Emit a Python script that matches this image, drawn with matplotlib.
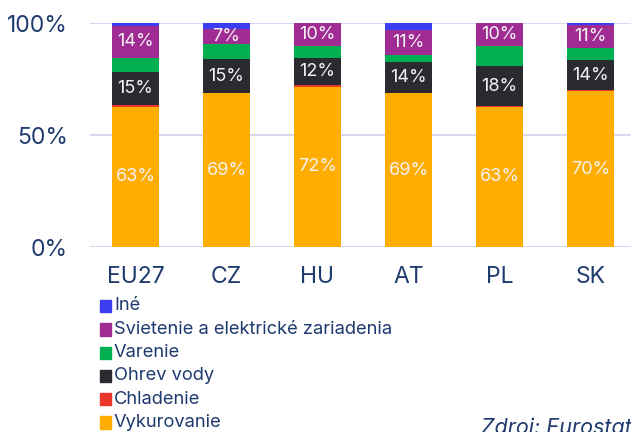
import matplotlib
matplotlib.use("Agg")
import matplotlib.pyplot as plt
from matplotlib.patches import Rectangle
import numpy as np

plt.rcParams['font.family'] = ['Inter', 'DejaVu Sans']

countries = ["EU27", "CZ", "HU", "AT", "PL", "SK"]
series_names = ["Vykurovanie", "Chladenie", "Ohrev vody", "Varenie",
                "Svietenie a elektrické zariadenia", "Iné"]
vykurovanie = [62.6, 68.6, 71.6, 68.6, 62.6, 69.6]
chladenie = [0.7, 0.0, 0.6, 0.0, 0.2, 0.3]
ohrev_vody = [14.9, 15.4, 12.3, 14.1, 17.9, 13.5]
varenie = [6.3, 6.6, 5.1, 2.9, 9.1, 5.3]
svietenie = [14.2, 6.8, 10.4, 11.2, 10.2, 10.6]
ine = [1.3, 2.6, 0.0, 3.2, 0.0, 0.8]
yticks = [0, 50, 100]
ytick_labels = ["0%", "50%", "100%"]
source = "Zdroj: Eurostat"

colors = ["#FFAD00", "#E8372A", "#2A2B30", "#00B050", "#A02B93", "#3C3CF0"]
labeled = {0, 2, 4}
navy = "#1F3A6E"

W, H = 631, 432
fig = plt.figure(figsize=(W / 100, H / 100), dpi=100)
ax_left, ax_right, ax_top, ax_bot = 90, 636, 23, 247
ax = fig.add_axes([ax_left / W, 1 - ax_bot / H, (ax_right - ax_left) / W,
                   (ax_bot - ax_top) / H])

data = [vykurovanie, chladenie, ohrev_vody, varenie, svietenie, ine]
x = np.arange(len(countries))
bottom = np.zeros(len(countries))
for i, (vals, c) in enumerate(zip(data, colors)):
    vals = np.array(vals)
    ax.bar(x, vals, width=0.52, bottom=bottom, color=c, zorder=3)
    if i in labeled:
        for xi, b, v in zip(x, bottom, vals):
            ax.text(xi, b + v / 2, f"{v:.0f}%", ha="center", va="center",
                    color="#F2F2F2", fontsize=13, zorder=4)
    bottom += vals

ax.set_xlim(-0.5, len(countries) - 0.5)
ax.set_ylim(0, 100)
ax.set_yticks(yticks)
ax.set_yticklabels(ytick_labels)
ax.set_xticks(x)
ax.set_xticklabels(countries)
ax.tick_params(axis="both", length=0, colors=navy, labelsize=16.5)
ax.tick_params(axis="y", pad=16)
ax.tick_params(axis="x", pad=14)
ax.yaxis.grid(True, color="#D5DAF0", linewidth=1.5, zorder=0)
for s in ax.spines.values():
    s.set_visible(False)

# legend (reverse order, top to bottom)
for k, idx in enumerate(reversed(range(len(series_names)))):
    yc = 306 + k * 23.3
    fig.patches.append(Rectangle((100 / W, 1 - (yc + 6.2) / H), 10.7 / W, 12.3 / H,
                                 transform=fig.transFigure, color=colors[idx]))
    fig.text(114 / W, 1 - yc / H, series_names[idx], ha="left", va="center",
             color=navy, fontsize=13.2)

fig.text(481 / W, 1 - 434 / H, source, ha="left", va="baseline",
         color=navy, fontsize=15.5, style="italic")

fig.savefig("out.png", dpi=100)
